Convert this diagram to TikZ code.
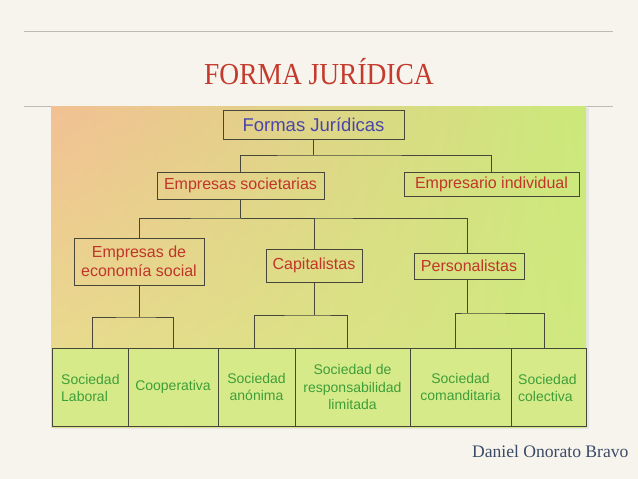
\documentclass[tikz,border=0pt]{standalone}
\usepackage{fontspec}
\usetikzlibrary{shadings}
\setmainfont{Liberation Serif}
\newfontfamily\boxfont{Liberation Sans}
\definecolor{bgcream}{HTML}{F7F4EE}
\definecolor{rulegray}{HTML}{BDBAB4}
\definecolor{titlered}{HTML}{C43A2C}
\definecolor{authorblue}{HTML}{3B4A66}
\definecolor{cpeach}{HTML}{F2C093}
\definecolor{cyellow}{HTML}{E6E28C}
\definecolor{cgreen}{HTML}{CBE97A}
\definecolor{cgreenb}{HTML}{D0E980}
\definecolor{cellfill}{HTML}{D6EA8A}
\definecolor{boxline}{HTML}{46473A}
\definecolor{txtblue}{HTML}{4A45A8}
\definecolor{txtred}{HTML}{C0362A}
\definecolor{txtgreen}{HTML}{3E9E38}
\tikzset{
  hbox/.style={draw=boxline, line width=1pt, inner sep=0pt, align=center, font=\boxfont\fontsize{16}{18.5}\selectfont, text=txtred},
  cellbox/.style={draw=boxline, line width=1pt, fill=cellfill, inner sep=0pt, minimum height=78pt, font=\boxfont\fontsize{14}{17.5}\selectfont, text=txtgreen},
  celltext/.style={text=txtgreen, font=\boxfont\fontsize{14}{17.5}\selectfont, align=left, anchor=west, inner sep=0pt},
  conn/.style={draw=boxline, line width=1pt}
}
\begin{document}
\begin{tikzpicture}[x=1pt,y=-1pt]
\useasboundingbox (0,0) rectangle (638,479);
\fill[bgcream] (0,0) rectangle (638,479);
% rules
\draw[rulegray, line width=0.8pt] (24,31.5) -- (613,31.5);
\draw[rulegray, line width=0.8pt] (24,106) -- (613,106);
% title
\node[text=titlered, font=\fontsize{30.5}{33}\selectfont, xscale=0.9] (title) at (319,71.5) {FORMA JURÍDICA};
% author
\node[text=authorblue, font=\fontsize{17.6}{20}\selectfont, anchor=east] (author) at (632,451) {Daniel Onorato Bravo};
% picture background
\fill[black!10] (54,108) rectangle (589,429);
\shade[upper left=cpeach, upper right=cgreen, lower left=cyellow, lower right=cgreenb] (51,106) rectangle (586,427);
% boxes
\node[hbox, text=txtblue, font=\boxfont\fontsize{18.5}{20}\selectfont, minimum width=181pt, minimum height=29pt] (fj) at (313.5,124.5) {Formas Jurídicas};
\node[hbox, minimum width=167pt, minimum height=27pt] (es) at (240.5,185.5) {Empresas societarias};
\node[hbox, minimum width=175pt, minimum height=24pt] (ei) at (491.5,184) {Empresario individual};
\node[hbox, minimum width=130pt, minimum height=47pt] (eco) at (139,261.5) {Empresas de\\economía social};
\node[hbox, minimum width=96pt, minimum height=33pt] (cap) at (314,265.5) {Capitalistas};
\node[hbox, minimum width=110pt, minimum height=26pt] (per) at (469,266) {Personalistas};
% bottom cells
\node[cellbox, minimum width=76pt] (sl) at (90,387) {};
\node[celltext] (slt) at (61,388) {Sociedad\\Laboral};
\node[cellbox, minimum width=90pt] (coop) at (173,387) {Cooperativa};
\node[cellbox, minimum width=77pt, align=center] (sa) at (256.5,387) {Sociedad\\anónima};
\node[cellbox, minimum width=115pt, align=center] (srl) at (352.5,387) {Sociedad de\\responsabilidad\\limitada};
\node[cellbox, minimum width=101pt, align=center] (scom) at (460.5,387) {Sociedad\\comanditaria};
\node[cellbox, minimum width=75pt] (scol) at (548.5,387) {};
\node[celltext] (scolt) at (518,388) {Sociedad\\colectiva};
% connectors
\coordinate (j1) at (313.5,155);
\draw[conn] (fj.south) -- (j1);
\draw[conn] (es.north) |- (j1) -| (ei.north);
\coordinate (j2) at (240.5,218);
\coordinate (pertop) at (467,253);
\draw[conn] (es.south) -- (j2);
\draw[conn] (eco.north) |- (j2) -| (pertop);
\draw[conn] (j2) -| (cap.north);
% economia social children
\coordinate (j3) at (139,317);
\coordinate (c1) at (92,348);
\coordinate (c2) at (173,348);
\draw[conn] (eco.south) -- (j3);
\draw[conn] (c1) |- (j3) -| (c2);
% capitalistas children
\coordinate (j4) at (314,315);
\coordinate (c3) at (254,348);
\coordinate (c4) at (347,348);
\draw[conn] (cap.south) -- (j4);
\draw[conn] (c3) |- (j4) -| (c4);
% personalistas children
\coordinate (j5) at (467,313);
\coordinate (perbot) at (467,279);
\coordinate (c5) at (455,348);
\coordinate (c6) at (544,348);
\draw[conn] (perbot) -- (j5);
\draw[conn] (c5) |- (j5) -| (c6);
\end{tikzpicture}
\end{document}
